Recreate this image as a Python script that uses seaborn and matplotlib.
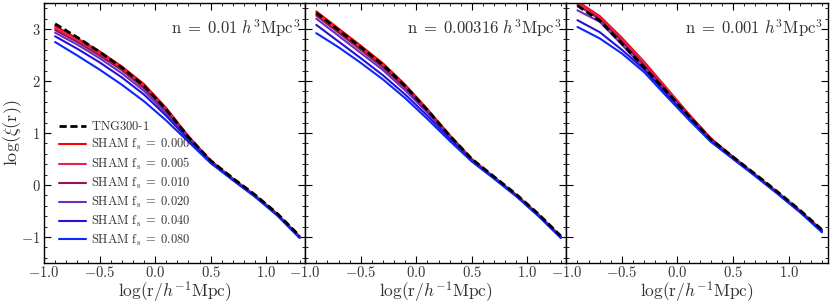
import numpy as np
import pandas as pd
import matplotlib
matplotlib.use("Agg")
import matplotlib.pyplot as plt
import seaborn as sns
from matplotlib.ticker import MultipleLocator, FuncFormatter

# ---------------- data ----------------
log_r = [-0.9, -0.7, -0.5, -0.3, -0.1, 0.1, 0.3, 0.5, 0.7, 0.9, 1.1, 1.3]

panel_titles = [r"$\mathrm{n}\;{=}\;0.01\ h^3\mathrm{Mpc}^3$",
                r"$\mathrm{n}\;{=}\;0.00316\ h^3\mathrm{Mpc}^3$",
                r"$\mathrm{n}\;{=}\;0.001\ h^3\mathrm{Mpc}^3$"]

fs_labels = ["0.000", "0.005", "0.010", "0.020", "0.040", "0.080"]
fs_colors = ["#ff0000", "#e8234e", "#9c1150", "#6a2fc0", "#2a10d8", "#0a28ff"]

# panel 1: n = 0.01
tng_1 = [3.10, 2.84, 2.56, 2.26, 1.91, 1.45, 0.92, 0.47, 0.13, -0.19, -0.55, -0.98]
sham_1_000 = [3.06, 2.82, 2.57, 2.28, 1.94, 1.48, 0.94, 0.47, 0.12, -0.20, -0.56, -0.99]
sham_1_005 = [3.02, 2.79, 2.53, 2.25, 1.90, 1.45, 0.93, 0.46, 0.12, -0.20, -0.56, -0.99]
sham_1_010 = [2.98, 2.75, 2.49, 2.21, 1.86, 1.42, 0.91, 0.46, 0.11, -0.21, -0.57, -1.00]
sham_1_020 = [2.93, 2.70, 2.44, 2.15, 1.81, 1.38, 0.89, 0.45, 0.11, -0.21, -0.57, -1.00]
sham_1_040 = [2.86, 2.62, 2.36, 2.07, 1.74, 1.33, 0.87, 0.44, 0.10, -0.22, -0.58, -1.01]
sham_1_080 = [2.75, 2.49, 2.22, 1.93, 1.61, 1.24, 0.83, 0.42, 0.09, -0.23, -0.59, -1.02]

# panel 2: n = 0.00316
tng_2 = [3.31, 2.98, 2.65, 2.31, 1.90, 1.44, 0.95, 0.50, 0.16, -0.18, -0.56, -0.98]
sham_2_000 = [3.34, 3.01, 2.68, 2.34, 1.93, 1.46, 0.96, 0.50, 0.15, -0.19, -0.57, -0.99]
sham_2_005 = [3.30, 2.97, 2.64, 2.30, 1.90, 1.44, 0.95, 0.49, 0.15, -0.19, -0.57, -0.99]
sham_2_010 = [3.26, 2.93, 2.60, 2.26, 1.87, 1.42, 0.94, 0.49, 0.14, -0.20, -0.58, -1.00]
sham_2_020 = [3.20, 2.87, 2.54, 2.21, 1.82, 1.39, 0.92, 0.48, 0.14, -0.20, -0.58, -1.00]
sham_2_040 = [3.08, 2.76, 2.44, 2.11, 1.74, 1.33, 0.89, 0.47, 0.13, -0.21, -0.59, -1.01]
sham_2_080 = [2.92, 2.65, 2.35, 2.03, 1.67, 1.27, 0.85, 0.45, 0.12, -0.22, -0.60, -1.02]

# panel 3: n = 0.001
tng_3 = [3.45, 3.16, 2.72, 2.26, 1.80, 1.33, 0.88, 0.54, 0.21, -0.13, -0.48, -0.86]
sham_3_000 = [3.53, 3.25, 2.83, 2.37, 1.87, 1.37, 0.90, 0.54, 0.20, -0.14, -0.49, -0.87]
sham_3_005 = [3.51, 3.22, 2.80, 2.34, 1.85, 1.36, 0.89, 0.54, 0.20, -0.14, -0.49, -0.87]
sham_3_010 = [3.46, 3.19, 2.76, 2.30, 1.82, 1.34, 0.88, 0.53, 0.19, -0.15, -0.50, -0.88]
sham_3_020 = [3.36, 3.14, 2.70, 2.24, 1.78, 1.31, 0.86, 0.52, 0.19, -0.15, -0.50, -0.88]
sham_3_040 = [3.17, 2.94, 2.60, 2.22, 1.75, 1.29, 0.85, 0.51, 0.18, -0.16, -0.51, -0.89]
sham_3_080 = [3.04, 2.82, 2.53, 2.17, 1.71, 1.26, 0.83, 0.50, 0.17, -0.17, -0.52, -0.91]

tng_all = [tng_1, tng_2, tng_3]
sham_all = [
    [sham_1_000, sham_1_005, sham_1_010, sham_1_020, sham_1_040, sham_1_080],
    [sham_2_000, sham_2_005, sham_2_010, sham_2_020, sham_2_040, sham_2_080],
    [sham_3_000, sham_3_005, sham_3_010, sham_3_020, sham_3_040, sham_3_080],
]

# ---------------- style ----------------
sns.set_style("ticks")
plt.rcParams.update({
    "mathtext.fontset": "cm",
    "font.family": ["DejaVu Serif"],
    "xtick.direction": "in",
    "ytick.direction": "in",
    "xtick.top": True,
    "ytick.right": True,
    "xtick.minor.visible": True,
    "ytick.minor.visible": True,
    "xtick.major.size": 5,
    "ytick.major.size": 5,
    "xtick.minor.size": 2.5,
    "ytick.minor.size": 2.5,
    "axes.edgecolor": "black",
    "axes.linewidth": 1.0,
})

fig, axes = plt.subplots(1, 3, figsize=(8.30, 3.03), dpi=100, sharey=True)
fig.subplots_adjust(left=0.053, right=0.997, bottom=0.132, top=0.99, wspace=0)

xfmt = FuncFormatter(lambda v, p: r"$%.1f$" % v if abs(v) > 1e-9 else r"$0.0$")
yfmt = FuncFormatter(lambda v, p: r"$%d$" % int(round(v)))

for i, ax in enumerate(axes):
    for lbl, col, vals in zip(fs_labels, fs_colors, sham_all[i]):
        df = pd.DataFrame({"x": log_r, "y": vals})
        sns.lineplot(data=df, x="x", y="y", ax=ax, color=col, lw=1.5,
                     label=r"$\mathrm{SHAM\ f_s}\;{=}\;%s$" % lbl, zorder=2)
    dft = pd.DataFrame({"x": log_r, "y": tng_all[i]})
    sns.lineplot(data=dft, x="x", y="y", ax=ax, color="black", lw=2.0,
                 label=r"$\mathrm{TNG300}$-$1$", zorder=3)
    ax.lines[-1].set_linestyle((0, (2.6, 1.3)))
    ax.set_xlim(-1.0, 1.35)
    ax.set_ylim(-1.5, 3.5)
    ax.xaxis.set_major_locator(MultipleLocator(0.5))
    ax.xaxis.set_minor_locator(MultipleLocator(0.1))
    ax.yaxis.set_major_locator(MultipleLocator(1))
    ax.yaxis.set_minor_locator(MultipleLocator(0.2))
    ax.xaxis.set_major_formatter(xfmt)
    ax.yaxis.set_major_formatter(yfmt)
    ax.tick_params(which="both", labelsize=10.5, colors="black",
                   labelcolor="#333333")
    ax.tick_params(axis="x", which="both", pad=1.5)
    ax.tick_params(axis="y", which="both", pad=2.5)
    ax.set_xlabel(r"$\log(\mathrm{r}/h^{-1}\mathrm{Mpc})$", fontsize=12.5,
                  color="#333333", labelpad=-0.5)
    ax.set_ylabel("")
    ax.text(0.98, 0.905, panel_titles[i], transform=ax.transAxes, ha="right",
            va="center", fontsize=12, color="#333333")
    leg = ax.get_legend()
    if leg is not None:
        leg.remove()

axes[0].set_ylabel(r"$\log(\xi(\mathrm{r}))$", fontsize=13, color="#333333",
                   labelpad=-2)

h, l = axes[0].get_legend_handles_labels()
order = [6, 0, 1, 2, 3, 4, 5]
axes[0].legend([h[k] for k in order], [l[k] for k in order], loc="lower left",
               bbox_to_anchor=(0.0, 0.0), frameon=False, fontsize=9,
               handlelength=2.2, handletextpad=0.35, labelspacing=0.3,
               borderaxespad=0.8, labelcolor="#333333")

fig.savefig("out.png", dpi=100)
